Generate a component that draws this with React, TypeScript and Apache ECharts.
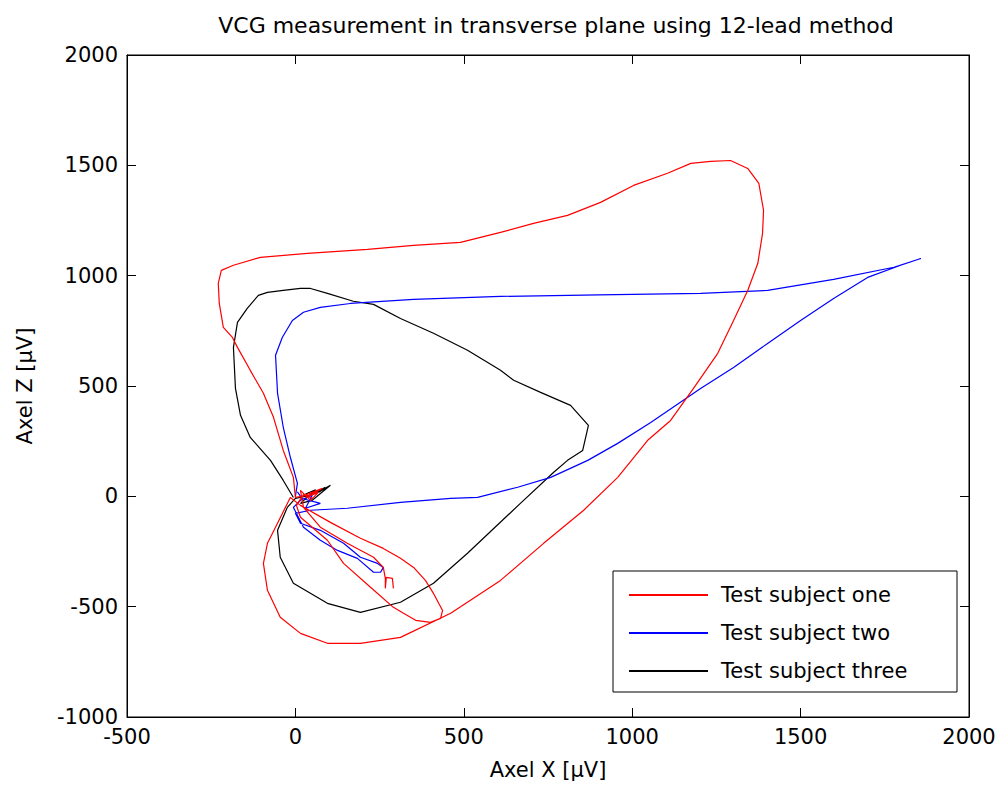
import React, { useEffect, useRef } from "react";
import * as echarts from "echarts";

// VCG loops in the transverse plane, [X µV, Z µV] samples per subject
const subjectOne: number[][] = [
  [291, -417], [288, -372], [270, -367], [267, -417], [267, -372], [261, -322], [232, -276],
  [154, -213], [74, -140], [24, -50],
  [15, 27], [45, -18], [68, 18], [30, -5], [80, 36], [20, 0], [0, -5],
  [-6, 86], [-36, 208], [-65, 358], [-95, 467], [-134, 571], [-172, 675], [-187, 720],
  [-214, 766], [-226, 874], [-229, 965], [-220, 1024], [-184, 1047], [-104, 1083], [36, 1101],
  [214, 1119], [351, 1137], [490, 1151], [609, 1196], [707, 1237], [808, 1273], [906, 1332],
  [1004, 1409], [1105, 1464], [1174, 1509], [1233, 1518], [1292, 1522], [1343, 1486],
  [1376, 1418], [1390, 1296], [1387, 1192], [1373, 1056], [1343, 933], [1301, 797],
  [1254, 648], [1182, 489], [1114, 344], [1046, 254], [957, 86], [856, -63], [737, -213],
  [609, -381], [461, -530], [312, -639], [193, -666], [95, -666], [15, -621], [-45, -548],
  [-83, -426], [-95, -304], [-83, -213], [-59, -140], [-15, -5],
  [15, -41], [104, -118], [193, -190], [261, -236], [312, -281], [351, -322], [386, -381],
  [410, -440], [437, -517], [431, -553], [401, -571], [357, -562], [321, -530], [291, -503],
  [223, -412], [143, -304], [95, -199], [15, -95], [3, -41], [25, 10], [50, -10],
];

const subjectTwo: number[][] = [
  [0, 0], [6, 59], [-15, 177], [-36, 313], [-53, 467], [-59, 639], [-39, 720], [-9, 797],
  [24, 834], [74, 856], [163, 874], [351, 893], [609, 906], [900, 913], [1203, 920],
  [1402, 933], [1598, 983], [1777, 1038], [1857, 1078], [1797, 1047], [1699, 992],
  [1598, 897], [1500, 797], [1402, 693], [1301, 584], [1203, 489], [1055, 335], [957, 240],
  [868, 163], [758, 86], [660, 41], [541, -5], [461, -9], [312, -27], [154, -54], [45, -63],
  [0, -77], [15, -122], [74, -154], [143, -213], [193, -276], [244, -304], [261, -322],
  [253, -344], [232, -344], [184, -281], [125, -245], [74, -199], [24, -140], [-6, -50],
  [15, -18], [50, 5], [30, -54], [74, -32], [20, -10], [6, 20],
];

const subjectThree: number[][] = [
  [-6, -5], [-36, 72], [-74, 163], [-134, 267], [-163, 367], [-178, 489], [-184, 675],
  [-172, 788], [-143, 852], [-110, 911], [-83, 924], [-36, 933], [15, 942], [45, 942],
  [95, 920], [172, 884], [232, 870], [312, 806], [410, 739], [511, 662], [609, 571],
  [648, 526], [728, 471], [817, 412], [870, 322], [853, 208], [808, 163], [767, 109],
  [668, -32], [511, -258], [410, -394], [312, -480], [193, -526], [95, -485], [-6, -394],
  [-45, -276], [-53, -154], [-24, -50], [0, -9],
  [45, 5], [89, 41], [68, 18], [104, 50], [50, -18], [15, -32], [60, 30], [30, 10],
];

const seriesNames = ["Test subject one", "Test subject two", "Test subject three"];
const seriesColors = ["#ff0000", "#0000ff", "#000000"];
const xRange = [-500, 2000];
const yRange = [-1000, 2000];
const tickStep = 500;

const FONT = "DejaVu Sans";

export default function App() {
  const ref = useRef<HTMLDivElement>(null);

  useEffect(() => {
    if (!ref.current) return;
    const chart = echarts.init(ref.current, null, { renderer: "svg" });
    const tickStyle = { show: true, inside: true, length: 9, lineStyle: { color: "#000", width: 1 } };
    const lineStyle = { show: true, onZero: false, lineStyle: { color: "#000", width: 1 } };
    const labelStyle = {
      color: "#000",
      fontFamily: FONT,
      fontSize: 21,
      margin: 9,
      formatter: (v: number) => String(v),
    };
    const nameStyle = { color: "#000", fontFamily: FONT, fontSize: 21 };
    const data = [subjectOne, subjectTwo, subjectThree];

    chart.setOption({
      animation: false,
      backgroundColor: "#fff",
      title: {
        text: "VCG measurement in transverse plane using 12-lead method",
        left: 551,
        top: 9,
        textAlign: "center",
        textStyle: { color: "#000", fontFamily: FONT, fontSize: 22, fontWeight: "normal" },
      },
      grid: {
        left: 127,
        right: 34,
        top: 55,
        bottom: 75,
        show: true,
        borderColor: "#000",
        borderWidth: 1,
        backgroundColor: "#fff",
      },
      legend: {
        orient: "vertical",
        left: 613,
        top: 571,
        padding: [12, 10, 9, 16],
        itemGap: 14,
        itemWidth: 79,
        itemHeight: 2,
        icon: "rect",
        borderColor: "#000",
        borderWidth: 1,
        backgroundColor: "#fff",
        data: seriesNames,
        textStyle: {
          color: "#000",
          fontFamily: FONT,
          fontSize: 21,
          lineHeight: 24,
          padding: [0, 0, 0, 8],
          width: 226,
        },
      },
      xAxis: [
        {
          type: "value",
          min: xRange[0],
          max: xRange[1],
          interval: tickStep,
          position: "bottom",
          name: "Axel X [μV]",
          nameLocation: "middle",
          nameGap: 42,
          nameTextStyle: nameStyle,
          axisLine: lineStyle,
          axisTick: tickStyle,
          axisLabel: labelStyle,
          splitLine: { show: false },
        },
        {
          type: "value",
          min: xRange[0],
          max: xRange[1],
          interval: tickStep,
          position: "top",
          axisLine: lineStyle,
          axisTick: tickStyle,
          axisLabel: { show: false },
          splitLine: { show: false },
        },
      ],
      yAxis: [
        {
          type: "value",
          min: yRange[0],
          max: yRange[1],
          interval: tickStep,
          position: "left",
          name: "Axel Z [μV]",
          nameLocation: "middle",
          nameGap: 92,
          nameTextStyle: nameStyle,
          axisLine: lineStyle,
          axisTick: tickStyle,
          axisLabel: labelStyle,
          splitLine: { show: false },
        },
        {
          type: "value",
          min: yRange[0],
          max: yRange[1],
          interval: tickStep,
          position: "right",
          axisLine: lineStyle,
          axisTick: tickStyle,
          axisLabel: { show: false },
          splitLine: { show: false },
        },
      ],
      series: seriesNames.map((name, i) => ({
        name,
        type: "line",
        xAxisIndex: 0,
        yAxisIndex: 0,
        data: data[i],
        showSymbol: false,
        symbol: "none",
        smooth: false,
        color: seriesColors[i],
        lineStyle: { color: seriesColors[i], width: 1.2 },
        z: 3 - i,
      })),
    });

    return () => chart.dispose();
  }, []);

  return (
    <div
      ref={ref}
      style={{ position: "absolute", left: 0, top: 0, width: 1003, height: 792 }}
    />
  );
}
